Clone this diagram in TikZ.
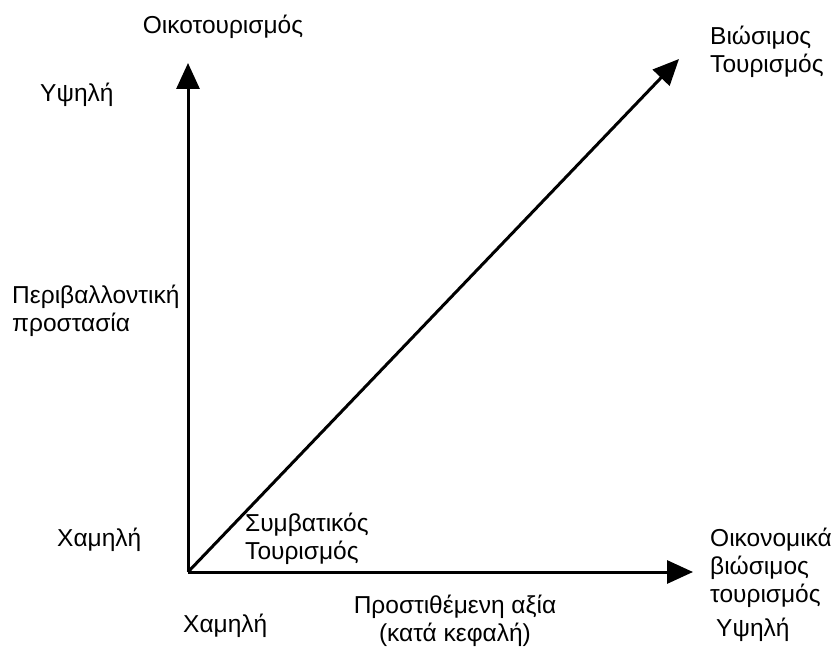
\documentclass[tikz,border=0pt]{standalone}
\usepackage{fontspec}
\setmainfont{Liberation Sans}
\usetikzlibrary{arrows.meta, positioning}

\begin{document}
\begin{tikzpicture}[
  x=1pt, y=-1pt,
  every node/.style={font=\fontsize{24.5}{28}\selectfont, inner sep=0pt, align=left},
  axis/.style={line width=3pt, -{Triangle[length=26pt, width=23pt]}},
]
  \useasboundingbox (0,0) rectangle (838,652);

  % axes
  \coordinate (origin) at (188,572);
  \coordinate (ytop) at (188,63);
  \coordinate (xend) at (693,572);
  \coordinate (dend) at (679,59);

  \draw[axis] (origin) -- (ytop);
  \draw[axis] (origin) -- (xend);
  \draw[axis] (origin) -- (dend);

  % labels, vertical axis
  \node (ecotour) at (223,27) {Οικοτουρισμός};
  \node[anchor=west] (yhigh) at (40,95) {Υψηλή};
  \node[anchor=west] (envprot) at (12,311) {Περιβαλλοντική\\προστασία};
  \node[anchor=west] (ylow) at (57,540) {Χαμηλή};

  % labels, diagonal
  \node[anchor=west] (conv) at (245,539) {Συμβατικός\\Τουρισμός};
  \node[anchor=west] (sustain) at (710,52) {Βιώσιμος\\Τουρισμός};

  % labels, horizontal axis
  \node[anchor=west] (econ) at (710,568) {Οικονομικά\\βιώσιμος\\τουρισμός};
  \node[anchor=west] (xlow) at (183,626) {Χαμηλή};
  \node[align=center] (added) at (455,621) {Προστιθέμενη αξία\\(κατά κεφαλή)};
  \node[anchor=west] (xhigh) at (716,630) {Υψηλή};
\end{tikzpicture}
\end{document}
